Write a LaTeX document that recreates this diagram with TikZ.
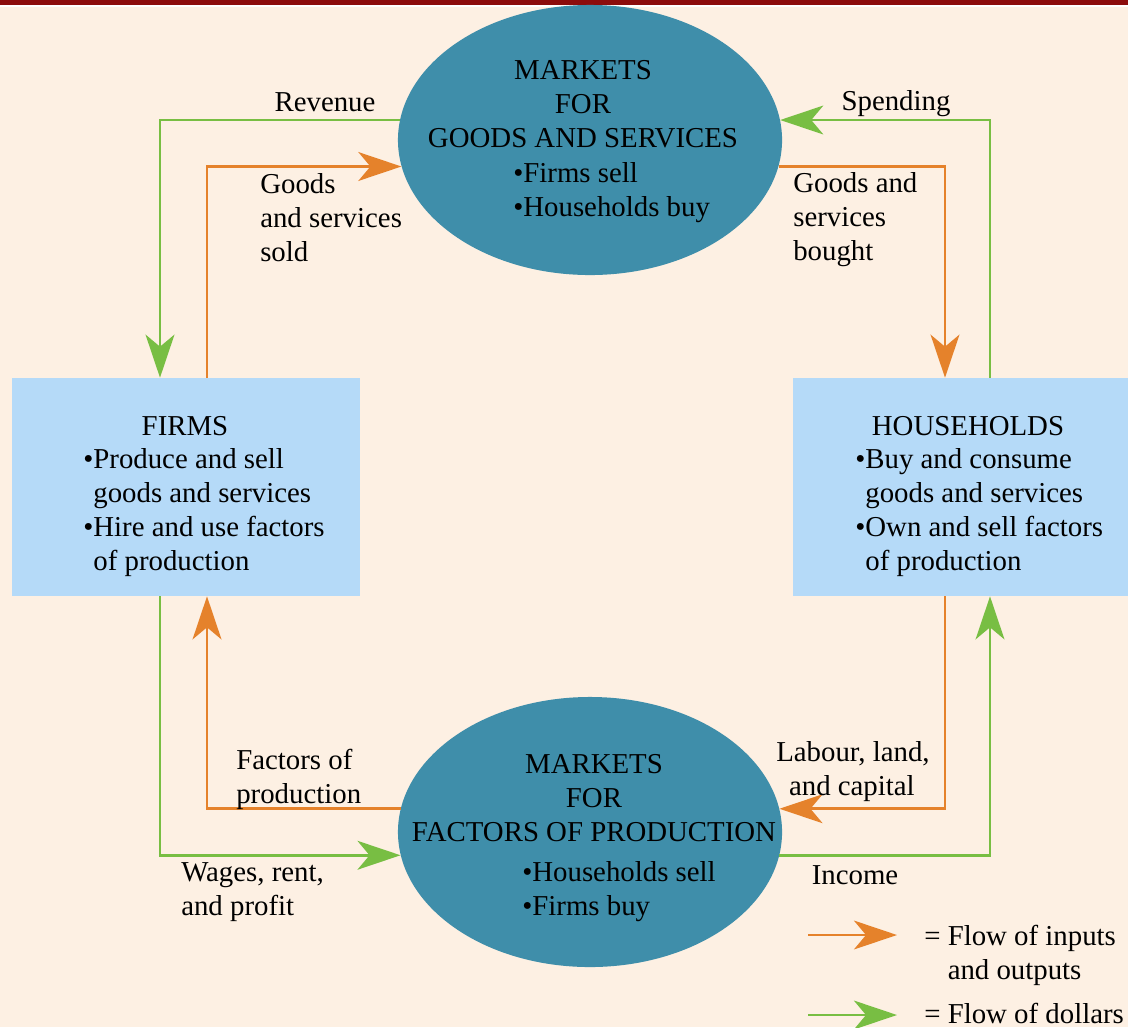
\documentclass[tikz,border=0pt]{standalone}
\usepackage{fontspec}
\setmainfont{Liberation Serif}
\usetikzlibrary{
  arrows.meta,
  shapes.geometric,
  positioning
}
\definecolor{cfPaper}{HTML}{FDF0E3}
\definecolor{cfRule}{HTML}{8C0C0C}
\definecolor{cfMarket}{HTML}{3F8EAA}
\definecolor{cfAgent}{HTML}{B5DAF8}
\definecolor{cfReal}{HTML}{E5822B}
\definecolor{cfMoney}{HTML}{78BE43}
\tikzset{
  cftext/.style={font=\fontsize{20.5}{24.2}\selectfont, inner sep=0pt},
  market/.style={ellipse, fill=cfMarket, minimum width=9.6cm, minimum height=6.75cm, inner sep=0pt},
  agent/.style={rectangle, fill=cfAgent, inner sep=0pt},
  title/.style={cftext, align=center},
  items/.style={cftext, align=left, anchor=west},
  tag/.style={cftext, align=left},
  real/.style={-{Stealth[length=1.075cm, width=0.72cm, inset=0.3cm]}, line width=2.1pt, cfReal},
  money/.style={-{Stealth[length=1.075cm, width=0.72cm, inset=0.3cm]}, line width=2.1pt, cfMoney}
}
\newcommand{\gap}{\hphantom{\textbullet}}

\begin{document}
\begin{tikzpicture}[x=0.025cm, y=-0.025cm]
  % paper and top rule
  \fill[cfPaper] (0,0) rectangle (1128,1027);
  \useasboundingbox (0,0) rectangle (1128,1027);
  \fill[white] (0,0) rectangle (1128,7);
  \fill[cfRule] (0,0) rectangle (1128,4.5);

  % the four blocks
  \node[market] (goods) at (590,140) {};
  \node[market] (factors) at (590,832) {};
  \node[agent, minimum width=8.7cm, minimum height=5.45cm] (firms) at (186,487) {};
  \node[agent, minimum width=8.375cm, minimum height=5.45cm] (homes) at (960.5,487) {};

  \node[title] (goodsT) at (583,104) {MARKETS\\FOR\\GOODS AND SERVICES};
  \node[items] (goodsL) at (513,193) {\textbullet Firms sell\\\textbullet Households buy};
  \node[title] (factorsT) at (594,798) {MARKETS\\FOR\\FACTORS OF PRODUCTION};
  \node[items] (factorsL) at (522,892) {\textbullet Households sell\\\textbullet Firms buy};
  \node[title] (firmsT) at (185,426) {FIRMS};
  \node[items] (firmsL) at (83,513) {\textbullet Produce and sell\\\gap goods and services\\\textbullet Hire and use factors\\\gap of production};
  \node[title] (homesT) at (968,426) {HOUSEHOLDS};
  \node[items] (homesL) at (855,513) {\textbullet Buy and consume\\\gap goods and services\\\textbullet Own and sell factors\\\gap of production};

  % lanes of the flows
  \coordinate (laneA) at (160,0);
  \coordinate (laneB) at (207,0);
  \coordinate (laneC) at (945,0);
  \coordinate (laneD) at (990,0);

  \draw[money] (goods.174) -| (firms.north -| laneA);
  \draw[real] (firms.north -| laneB) |- (goods.188);
  \draw[real] (goods.-8) -| (homes.north -| laneC);
  \draw[money] (homes.north -| laneD) |- (goods.6);
  \draw[money] (firms.south -| laneA) |- (factors.187);
  \draw[real] (factors.173) -| (firms.south -| laneB);
  \draw[real] (homes.south -| laneC) |- (factors.7);
  \draw[money] (factors.-7) -| (homes.south -| laneD);

  % flow labels
  \node[tag] (revenue) at (325,102) {Revenue};
  \node[tag, anchor=west] (sold) at (260,218) {Goods\\and services\\sold};
  \node[tag] (spending) at (896,104) {Spending};
  \node[tag, anchor=west] (bought) at (793,220) {Goods and\\services\\bought};
  \node[tag, anchor=west] (inputs) at (236,779) {Factors of\\production};
  \node[tag, anchor=west] (wages) at (181,892) {Wages, rent,\\and profit};
  \node[tag, anchor=west] (labour) at (776,772) {Labour, land,\\\hphantom{a}and capital};
  \node[tag] (income) at (855,875) {Income};

  % key
  \coordinate (keyA) at (808,935);
  \coordinate (keyB) at (897,935);
  \coordinate (keyC) at (808,1015);
  \coordinate (keyD) at (897,1015);
  \draw[real] (keyA) -- (keyB);
  \draw[money] (keyC) -- (keyD);
  \node[tag, anchor=west] (keyR) at (924,955) {= Flow of inputs\\\hphantom{= }and outputs};
  \node[tag, anchor=west] (keyM) at (924,1013) {= Flow of dollars};
\end{tikzpicture}
\end{document}
